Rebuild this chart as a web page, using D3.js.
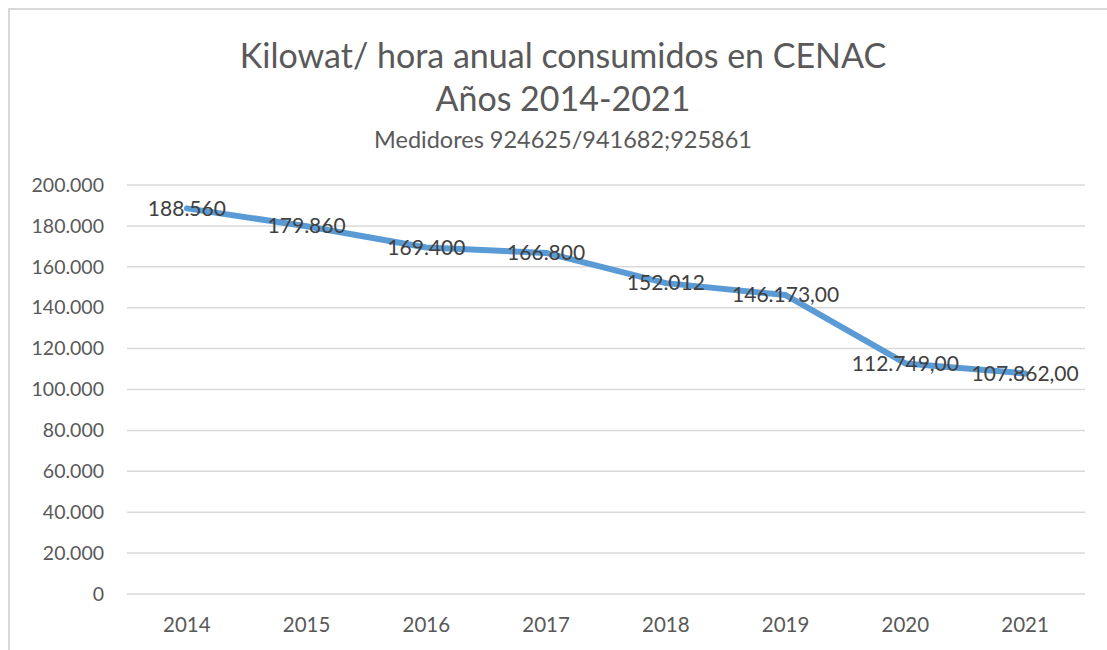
<!DOCTYPE html>
<html><head><meta charset="utf-8">
<script src="https://cdn.jsdelivr.net/npm/d3@7"></script>
<style>
html,body{margin:0;padding:0;background:#fff;}
svg{display:block;font-family:Lato,"Open Sans",sans-serif;}
</style></head>
<body>
<svg id="chart" width="1107" height="650"></svg>
<script>
const years = ["2014","2015","2016","2017","2018","2019","2020","2021"];
const values = [188560, 179860, 169400, 166800, 152012, 146173, 112749, 107862];
const valueLabels = ["188.560","179.860","169.400","166.800","152.012","146.173,00","112.749,00","107.862,00"];
const yTicks = [0,20000,40000,60000,80000,100000,120000,140000,160000,180000,200000];
const titleLines = ["Kilowat/ hora anual consumidos en CENAC","Años 2014-2021"];
const subtitle = "Medidores 924625/941682;925861";

const svg = d3.select("#chart");
svg.append("path").attr("d","M9,650 V9 H1107").attr("fill","none").attr("stroke","#d9d9d9").attr("stroke-width",2);

const m = {left:127, right:1085, top:185, bottom:594};
const x = d3.scaleBand().domain(years).range([m.left, m.right]);
const y = d3.scaleLinear().domain([0,200000]).range([m.bottom, m.top]);
const fmt = v => v===0 ? "0" : d3.format(",")(v).replace(/,/g,".");

svg.append("g").selectAll("line").data(yTicks).join("line")
  .attr("x1",m.left).attr("x2",m.right)
  .attr("y1",d=>y(d)).attr("y2",d=>y(d))
  .attr("stroke","#d9d9d9").attr("stroke-width",1.5);

const yAxis = svg.append("g").attr("transform",`translate(${m.left},0)`)
  .call(d3.axisLeft(y).tickValues(yTicks).tickFormat(fmt).tickSize(0).tickPadding(23));
yAxis.select(".domain").remove();
yAxis.selectAll("text").attr("font-size",19.5).attr("fill","#595959").attr("font-family","Lato,'Open Sans',sans-serif");

const xAxis = svg.append("g").attr("transform",`translate(0,${m.bottom})`)
  .call(d3.axisBottom(x).tickSize(0).tickPadding(23));
xAxis.select(".domain").remove();
xAxis.selectAll("text").attr("font-size",20.5).attr("fill","#595959").attr("font-family","Lato,'Open Sans',sans-serif");

const cx = d => x(d) + x.bandwidth()/2;
const line = d3.line().x((d,i)=>cx(years[i])).y(d=>y(d));
svg.append("path").datum(values).attr("d",line)
  .attr("fill","none").attr("stroke","#5b9bd5").attr("stroke-width",6)
  .attr("stroke-linecap","round").attr("stroke-linejoin","round");

svg.append("g").selectAll("text").data(values).join("text")
  .attr("x",(d,i)=>cx(years[i])).attr("y",d=>y(d)+2)
  .attr("text-anchor","middle").attr("dominant-baseline","middle")
  .attr("font-size",21).attr("fill","#404040")
  .text((d,i)=>valueLabels[i]);

svg.append("g").selectAll("text").data(titleLines).join("text")
  .attr("x",563).attr("y",(d,i)=>68+i*43)
  .attr("text-anchor","middle").attr("font-size",34).attr("fill","#595959")
  .text(d=>d);
svg.append("text").attr("x",563).attr("y",148).attr("text-anchor","middle")
  .attr("font-size",23.5).attr("fill","#595959").text(subtitle);
</script>
</body></html>
